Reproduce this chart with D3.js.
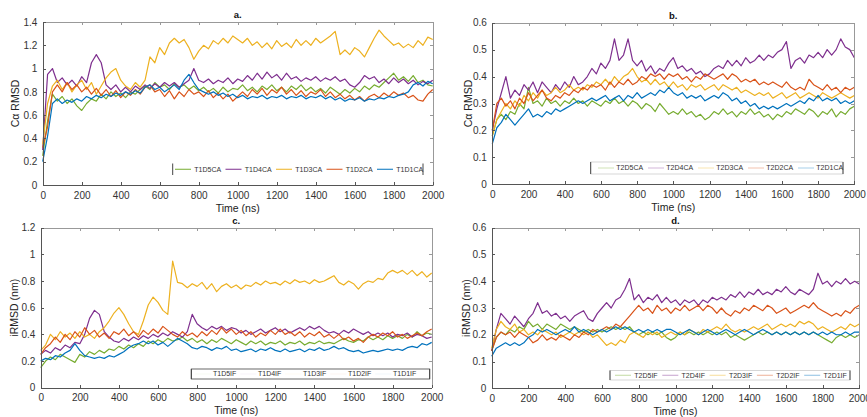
<!DOCTYPE html>
<meta charset="utf-8">
<style>
  body {
    margin: 0;
    background-color: white;
  }

  svg {
    display: block;
    font-family: "Liberation Sans", Arial, sans-serif;
  }

  .axis text {
    font-size: 10px;
    fill: #333;
  }

  .axis path,
  .axis line {
    fill: none;
    stroke: #555;
    shape-rendering: crispEdges;
  }

  .axis.far path,
  .axis.far line {
    stroke: #999;
  }

  .label {
    font-size: 10.5px;
    fill: #222;
  }

  .title {
    font-size: 9.5px;
    font-weight: bold;
    fill: #111;
  }

  .legend text {
    font-size: 7px;
    fill: #333;
  }

  .series {
    fill: none;
    stroke-width: 1.2;
    stroke-linejoin: round;
  }
</style>

<body>
  <svg id="chart" width="867" height="417"></svg>

  <script src="https://cdn.jsdelivr.net/npm/d3@7"></script>

  <script>
    var timeNs = d3.range(0, 2001, 25);
    var xTicks = [0, 200, 400, 600, 800, 1000, 1200, 1400, 1600, 1800, 2000];

    // a. T1 C-alpha RMSD
    var t1d5ca = [0.25, 0.55, 0.78, 0.72, 0.76, 0.70, 0.74, 0.68, 0.64, 0.70,
      0.74, 0.72, 0.78, 0.74, 0.80, 0.76, 0.79, 0.75, 0.80, 0.78,
      0.82, 0.85, 0.82, 0.88, 0.84, 0.86, 0.82, 0.87, 0.84, 0.86,
      0.82, 0.85, 0.81, 0.84, 0.80, 0.83, 0.79, 0.84, 0.80, 0.83,
      0.82, 0.86, 0.81, 0.84, 0.80, 0.85, 0.82, 0.86, 0.81, 0.84,
      0.80, 0.85, 0.82, 0.86, 0.81, 0.84, 0.80, 0.83, 0.79, 0.84,
      0.81, 0.78, 0.82, 0.79, 0.83, 0.80, 0.85, 0.82, 0.86, 0.84,
      0.88, 0.92, 0.96, 0.90, 0.93, 0.89, 0.94, 0.88, 0.90, 0.86, 0.85];
    var t1d4ca = [0.30, 0.95, 1.00, 0.88, 0.92, 0.86, 0.90, 0.85, 0.93, 0.88,
      1.05, 1.12, 1.05, 0.86, 0.82, 0.86, 0.80, 0.84, 0.80, 0.85,
      0.82, 0.86, 0.83, 0.87, 0.84, 0.88, 0.85, 0.88, 0.84, 0.87,
      0.90, 1.00, 0.90, 0.88, 0.91, 0.87, 0.90, 0.88, 0.92, 0.87,
      0.91, 0.89, 0.94, 0.90, 0.96, 0.91, 0.97, 0.92, 0.95, 0.90,
      0.96, 0.91, 0.93, 0.89, 0.92, 0.90, 0.93, 0.89, 0.92, 0.90,
      0.93, 0.89, 0.91, 0.86, 0.84, 0.88, 0.94, 0.91, 0.93, 0.88,
      0.91, 0.87, 0.92, 0.88, 0.91, 0.87, 0.90, 0.86, 0.89, 0.87, 0.90];
    var t1d3ca = [0.35, 0.70, 0.85, 0.90, 0.82, 0.88, 0.80, 0.86, 0.90, 0.82,
      0.88, 0.78, 0.85, 0.92, 0.97, 1.00, 0.90, 0.85, 0.82, 0.88,
      0.84, 0.90, 1.10, 1.05, 1.18, 1.12, 1.22, 1.26, 1.22, 1.25,
      1.18, 1.08, 1.15, 1.20, 1.17, 1.24, 1.21, 1.26, 1.22, 1.28,
      1.25, 1.22, 1.26, 1.20, 1.23, 1.18, 1.22, 1.17, 1.24, 1.19,
      1.22, 1.18, 1.25, 1.20, 1.24, 1.20, 1.26, 1.22, 1.25, 1.28,
      1.32, 1.12, 1.16, 1.12, 1.18, 1.15, 1.10, 1.18, 1.26, 1.33,
      1.28, 1.24, 1.20, 1.22, 1.18, 1.21, 1.18, 1.24, 1.20, 1.27, 1.25];
    var t1d2ca = [0.32, 0.50, 0.80, 0.86, 0.80, 0.88, 0.82, 0.86, 0.80, 0.84,
      0.78, 0.83, 0.77, 0.82, 0.76, 0.81, 0.75, 0.80, 0.77, 0.82,
      0.78, 0.84, 0.86, 0.80, 0.82, 0.76, 0.81, 0.74, 0.80, 0.76,
      0.82, 0.78, 0.80, 0.76, 0.81, 0.75, 0.79, 0.74, 0.78, 0.72,
      0.76, 0.80, 0.76, 0.82, 0.78, 0.83, 0.77, 0.82, 0.79, 0.84,
      0.78, 0.82, 0.77, 0.81, 0.76, 0.80, 0.78, 0.82, 0.76, 0.80,
      0.75, 0.78, 0.74, 0.77, 0.73, 0.76, 0.72, 0.76, 0.78, 0.75,
      0.79, 0.76, 0.80, 0.77, 0.79, 0.75, 0.77, 0.73, 0.72, 0.78, 0.82];
    var t1d1ca = [0.20, 0.42, 0.70, 0.74, 0.70, 0.73, 0.71, 0.74, 0.72, 0.76,
      0.74, 0.77, 0.75, 0.78, 0.76, 0.79, 0.77, 0.80, 0.78, 0.81,
      0.79, 0.84, 0.86, 0.82, 0.84, 0.80, 0.83, 0.86, 0.82, 0.90,
      0.95, 0.88, 0.82, 0.80, 0.78, 0.80, 0.77, 0.79, 0.76, 0.78,
      0.75, 0.77, 0.74, 0.76, 0.75, 0.77, 0.74, 0.76, 0.75, 0.77,
      0.74, 0.76, 0.75, 0.77, 0.74, 0.76, 0.75, 0.77, 0.74, 0.76,
      0.73, 0.75, 0.72, 0.74, 0.73, 0.75, 0.72, 0.74, 0.73, 0.75,
      0.74, 0.76, 0.75, 0.77, 0.78, 0.80, 0.86, 0.88, 0.85, 0.89, 0.87];

    // b. T2 C-alpha RMSD
    var t2d5ca = [0.18, 0.24, 0.26, 0.24, 0.27, 0.26, 0.30, 0.28, 0.36, 0.30,
      0.31, 0.29, 0.32, 0.30, 0.31, 0.29, 0.31, 0.30, 0.32, 0.30,
      0.31, 0.29, 0.31, 0.30, 0.29, 0.31, 0.30, 0.32, 0.30, 0.31,
      0.29, 0.31, 0.30, 0.28, 0.30, 0.29, 0.27, 0.30, 0.28, 0.26,
      0.27, 0.26, 0.28, 0.26, 0.27, 0.25, 0.26, 0.24, 0.25, 0.27,
      0.26, 0.28, 0.26, 0.27, 0.25, 0.27, 0.26, 0.28, 0.26, 0.27,
      0.25, 0.26, 0.24, 0.26, 0.25, 0.27, 0.26, 0.28, 0.27, 0.26,
      0.28, 0.27, 0.25, 0.27, 0.26, 0.28, 0.25, 0.27, 0.26, 0.28, 0.29];
    var t2d4ca = [0.20, 0.28, 0.34, 0.40, 0.32, 0.35, 0.33, 0.37, 0.35, 0.38,
      0.34, 0.38, 0.36, 0.34, 0.37, 0.35, 0.38, 0.36, 0.40, 0.37,
      0.38, 0.40, 0.43, 0.41, 0.45, 0.43, 0.46, 0.54, 0.46, 0.48,
      0.54, 0.46, 0.44, 0.46, 0.42, 0.44, 0.41, 0.43, 0.42, 0.45,
      0.47, 0.43, 0.44, 0.42, 0.43, 0.41, 0.42, 0.40, 0.41, 0.43,
      0.44, 0.43, 0.46, 0.44, 0.46, 0.44, 0.47, 0.45, 0.46, 0.48,
      0.46, 0.48, 0.47, 0.49, 0.50, 0.53, 0.43, 0.46, 0.47, 0.45,
      0.48, 0.47, 0.49, 0.47, 0.50, 0.48, 0.50, 0.54, 0.51, 0.50, 0.47];
    var t2d3ca = [0.18, 0.24, 0.27, 0.30, 0.28, 0.31, 0.29, 0.33, 0.31, 0.34,
      0.32, 0.35, 0.33, 0.34, 0.36, 0.34, 0.35, 0.37, 0.35, 0.36,
      0.35, 0.37, 0.36, 0.38, 0.37, 0.39, 0.37, 0.40, 0.38, 0.40,
      0.41, 0.43, 0.40, 0.38, 0.39, 0.37, 0.39, 0.37, 0.38, 0.36,
      0.38, 0.36, 0.37, 0.35, 0.37, 0.36, 0.37, 0.35, 0.36, 0.37,
      0.35, 0.37, 0.36, 0.35, 0.36, 0.34, 0.35, 0.34, 0.33, 0.34,
      0.33, 0.34, 0.32, 0.33, 0.34, 0.32, 0.33, 0.34, 0.32, 0.33,
      0.34, 0.33, 0.32, 0.34, 0.33, 0.32, 0.33, 0.34, 0.33, 0.32, 0.33];
    var t2d2ca = [0.20, 0.30, 0.32, 0.29, 0.31, 0.28, 0.32, 0.30, 0.34, 0.31,
      0.33, 0.35, 0.32, 0.31, 0.33, 0.32, 0.34, 0.33, 0.35, 0.34,
      0.36, 0.35, 0.37, 0.36, 0.37, 0.35, 0.38, 0.36, 0.38, 0.37,
      0.39, 0.37, 0.38, 0.40, 0.39, 0.41, 0.40, 0.41, 0.39, 0.41,
      0.40, 0.41, 0.39, 0.40, 0.38, 0.40, 0.39, 0.41, 0.40, 0.39,
      0.40, 0.41, 0.39, 0.41, 0.40, 0.38, 0.39, 0.38, 0.39, 0.37,
      0.38, 0.37, 0.38, 0.37, 0.36, 0.38, 0.36, 0.35, 0.36, 0.35,
      0.39, 0.37, 0.36, 0.35, 0.37, 0.35, 0.36, 0.34, 0.36, 0.35, 0.36];
    var t2d1ca = [0.15, 0.21, 0.23, 0.26, 0.24, 0.22, 0.24, 0.26, 0.28, 0.25,
      0.26, 0.25, 0.27, 0.26, 0.28, 0.27, 0.28, 0.29, 0.30, 0.31,
      0.30, 0.31, 0.32, 0.31, 0.32, 0.33, 0.31, 0.32, 0.33, 0.31,
      0.33, 0.32, 0.34, 0.32, 0.33, 0.34, 0.33, 0.35, 0.34, 0.36,
      0.34, 0.33, 0.34, 0.32, 0.33, 0.32, 0.33, 0.31, 0.32, 0.33,
      0.32, 0.34, 0.33, 0.31, 0.32, 0.30, 0.31, 0.29, 0.30, 0.28,
      0.29, 0.28, 0.29, 0.28, 0.29, 0.30, 0.29, 0.30, 0.31, 0.30,
      0.32, 0.31, 0.33, 0.31, 0.32, 0.31, 0.32, 0.30, 0.31, 0.30, 0.31];

    // c. T1 interface RMSD
    var t1d5if = [0.15, 0.20, 0.23, 0.21, 0.25, 0.23, 0.21, 0.19, 0.25, 0.23,
      0.27, 0.25, 0.28, 0.26, 0.29, 0.28, 0.31, 0.29, 0.32, 0.30,
      0.33, 0.31, 0.35, 0.33, 0.36, 0.34, 0.37, 0.35, 0.36, 0.38,
      0.35, 0.37, 0.34, 0.36, 0.33, 0.36, 0.34, 0.37, 0.35, 0.33,
      0.36, 0.34, 0.32, 0.35, 0.33, 0.35, 0.32, 0.34, 0.33, 0.35,
      0.32, 0.34, 0.33, 0.35, 0.32, 0.34, 0.33, 0.35, 0.33, 0.34,
      0.33, 0.35, 0.37, 0.35, 0.34, 0.36, 0.35, 0.38, 0.36, 0.38,
      0.36, 0.39, 0.37, 0.39, 0.37, 0.40, 0.38, 0.42, 0.39, 0.41, 0.40];
    var t1d4if = [0.25, 0.28, 0.26, 0.30, 0.28, 0.32, 0.30, 0.34, 0.33, 0.40,
      0.52, 0.58, 0.55, 0.42, 0.38, 0.35, 0.34, 0.37, 0.35, 0.38,
      0.36, 0.39, 0.37, 0.40, 0.38, 0.41, 0.39, 0.42, 0.40, 0.38,
      0.42, 0.55, 0.48, 0.45, 0.43, 0.46, 0.44, 0.46, 0.43, 0.45,
      0.44, 0.41, 0.43, 0.40, 0.42, 0.44, 0.41, 0.43, 0.45, 0.42,
      0.44, 0.41, 0.43, 0.45, 0.43, 0.46, 0.44, 0.46, 0.43, 0.41,
      0.42, 0.40, 0.43, 0.41, 0.44, 0.42, 0.40, 0.42, 0.39, 0.41,
      0.39, 0.41, 0.38, 0.40, 0.39, 0.41, 0.38, 0.40, 0.39, 0.37, 0.38];
    var t1d3if = [0.28, 0.32, 0.40, 0.36, 0.42, 0.38, 0.41, 0.37, 0.42, 0.38,
      0.40, 0.37, 0.42, 0.45, 0.50, 0.56, 0.60, 0.55, 0.48, 0.42,
      0.40, 0.50, 0.62, 0.68, 0.64, 0.58, 0.55, 0.95, 0.79, 0.78,
      0.75, 0.78, 0.76, 0.79, 0.74, 0.78, 0.72, 0.76, 0.78, 0.75,
      0.77, 0.74, 0.77, 0.76, 0.79, 0.77, 0.80, 0.78, 0.79, 0.77,
      0.80, 0.78, 0.81, 0.79, 0.80, 0.78, 0.81, 0.79, 0.80, 0.82,
      0.84, 0.79, 0.77, 0.80, 0.78, 0.74, 0.78, 0.80, 0.79, 0.82,
      0.81, 0.86, 0.88, 0.86, 0.88, 0.85, 0.88, 0.84, 0.87, 0.83, 0.86];
    var t1d2if = [0.25, 0.30, 0.33, 0.38, 0.34, 0.40, 0.36, 0.42, 0.38, 0.45,
      0.40, 0.43, 0.38, 0.41, 0.37, 0.42, 0.40, 0.44, 0.39, 0.42,
      0.38, 0.43, 0.40, 0.44, 0.41, 0.46, 0.43, 0.40, 0.38, 0.42,
      0.39, 0.41, 0.38, 0.42, 0.39, 0.43, 0.40, 0.45, 0.41, 0.44,
      0.40, 0.43, 0.39, 0.42, 0.38, 0.41, 0.39, 0.43, 0.40, 0.44,
      0.40, 0.42, 0.39, 0.42, 0.38, 0.41, 0.39, 0.42, 0.38, 0.40,
      0.37, 0.40, 0.36, 0.38, 0.35, 0.37, 0.34, 0.38, 0.40, 0.38,
      0.41, 0.39, 0.42, 0.38, 0.40, 0.37, 0.39, 0.41, 0.39, 0.42, 0.44];
    var t1d1if = [0.20, 0.22, 0.21, 0.24, 0.23, 0.26, 0.28, 0.33, 0.28, 0.24,
      0.23, 0.22, 0.23, 0.22, 0.24, 0.23, 0.25, 0.27, 0.30, 0.32,
      0.33, 0.35, 0.33, 0.35, 0.32, 0.34, 0.31, 0.34, 0.37, 0.35,
      0.33, 0.30, 0.29, 0.31, 0.30, 0.28, 0.30, 0.29, 0.31, 0.28,
      0.29, 0.27, 0.28, 0.29, 0.27, 0.29, 0.28, 0.30, 0.28, 0.27,
      0.29, 0.27, 0.28, 0.29, 0.27, 0.29, 0.28, 0.30, 0.28, 0.29,
      0.31, 0.29, 0.30, 0.28, 0.27, 0.28, 0.26, 0.27, 0.28, 0.27,
      0.28, 0.29, 0.28, 0.29, 0.28, 0.30, 0.31, 0.30, 0.33, 0.32, 0.34];

    // d. T2 interface RMSD
    var t2d5if = [0.14, 0.19, 0.21, 0.20, 0.22, 0.21, 0.23, 0.22, 0.25, 0.23,
      0.24, 0.22, 0.24, 0.23, 0.22, 0.24, 0.23, 0.22, 0.23, 0.22,
      0.21, 0.22, 0.21, 0.22, 0.21, 0.22, 0.23, 0.22, 0.23, 0.22,
      0.23, 0.21, 0.20, 0.21, 0.20, 0.21, 0.20, 0.21, 0.19, 0.18,
      0.19, 0.21, 0.20, 0.21, 0.20, 0.21, 0.20, 0.21, 0.20, 0.21,
      0.20, 0.21, 0.19, 0.20, 0.19, 0.18, 0.19, 0.20, 0.21, 0.20,
      0.21, 0.20, 0.21, 0.20, 0.21, 0.20, 0.21, 0.20, 0.21, 0.20,
      0.21, 0.20, 0.19, 0.18, 0.17, 0.19, 0.20, 0.19, 0.20, 0.19, 0.20];
    var t2d4if = [0.14, 0.22, 0.28, 0.26, 0.24, 0.27, 0.25, 0.23, 0.26, 0.28,
      0.32, 0.28, 0.29, 0.27, 0.28, 0.26, 0.27, 0.25, 0.27, 0.28,
      0.29, 0.26, 0.25, 0.28, 0.30, 0.32, 0.30, 0.33, 0.34, 0.37,
      0.41, 0.33, 0.35, 0.32, 0.34, 0.33, 0.35, 0.32, 0.34, 0.32,
      0.33, 0.31, 0.33, 0.32, 0.33, 0.31, 0.33, 0.32, 0.34, 0.33,
      0.34, 0.33, 0.35, 0.34, 0.36, 0.34, 0.36, 0.35, 0.37, 0.35,
      0.36, 0.35, 0.37, 0.36, 0.38, 0.36, 0.35, 0.37, 0.36, 0.35,
      0.37, 0.43, 0.39, 0.40, 0.38, 0.40, 0.39, 0.41, 0.39, 0.40, 0.39];
    var t2d3if = [0.15, 0.22, 0.25, 0.23, 0.22, 0.24, 0.21, 0.22, 0.20, 0.21,
      0.20, 0.22, 0.21, 0.20, 0.21, 0.19, 0.20, 0.21, 0.20, 0.21,
      0.20, 0.21, 0.19, 0.20, 0.18, 0.16, 0.17, 0.16, 0.18, 0.17,
      0.20, 0.21, 0.20, 0.19, 0.21, 0.20, 0.21, 0.19, 0.20, 0.21,
      0.20, 0.21, 0.20, 0.22, 0.21, 0.20, 0.22, 0.21, 0.22, 0.23,
      0.22, 0.24, 0.22, 0.21, 0.22, 0.21, 0.22, 0.23, 0.22, 0.23,
      0.24, 0.22, 0.23, 0.24, 0.23, 0.24, 0.23, 0.25, 0.24, 0.25,
      0.24, 0.22, 0.23, 0.22, 0.21, 0.22, 0.23, 0.22, 0.24, 0.23, 0.24];
    var t2d2if = [0.14, 0.19, 0.21, 0.20, 0.21, 0.19, 0.21, 0.20, 0.19, 0.17,
      0.18, 0.20, 0.18, 0.19, 0.18, 0.20, 0.19, 0.18, 0.20, 0.19,
      0.21, 0.20, 0.22, 0.21, 0.22, 0.23, 0.22, 0.24, 0.23, 0.25,
      0.27, 0.29, 0.31, 0.29, 0.30, 0.28, 0.31, 0.29, 0.30, 0.28,
      0.30, 0.29, 0.31, 0.29, 0.30, 0.31, 0.29, 0.31, 0.30, 0.28,
      0.30, 0.28, 0.27, 0.29, 0.28, 0.30, 0.29, 0.31, 0.30, 0.29,
      0.31, 0.30, 0.28, 0.29, 0.30, 0.28, 0.29, 0.30, 0.31, 0.30,
      0.32, 0.30, 0.29, 0.28, 0.27, 0.28, 0.27, 0.29, 0.28, 0.30, 0.31];
    var t2d1if = [0.12, 0.15, 0.16, 0.17, 0.16, 0.17, 0.16, 0.17, 0.19, 0.20,
      0.22, 0.21, 0.22, 0.21, 0.20, 0.21, 0.22, 0.21, 0.23, 0.21,
      0.22, 0.21, 0.20, 0.21, 0.22, 0.21, 0.22, 0.23, 0.22, 0.23,
      0.22, 0.21, 0.22, 0.21, 0.22, 0.21, 0.22, 0.21, 0.22, 0.22,
      0.21, 0.20, 0.21, 0.22, 0.21, 0.20, 0.21, 0.22, 0.21, 0.20,
      0.21, 0.22, 0.21, 0.20, 0.21, 0.22, 0.21, 0.20, 0.21, 0.22,
      0.21, 0.20, 0.21, 0.20, 0.21, 0.20, 0.21, 0.20, 0.21, 0.20,
      0.21, 0.20, 0.21, 0.20, 0.21, 0.20, 0.20, 0.21, 0.20, 0.21, 0.21];

    // matlab default colours, legend order D5, D4, D3, D2, D1
    var seriesColors = ["#77AC30", "#7E2F8E", "#EDB120", "#D95319", "#0072BD"];

    var panels = [
      {
        title: "a.", ylabel: "C\u03b1 RMSD", ymax: 1.4, ystep: 0.2, ylabelX: 15,
        names: ["T1D5CA", "T1D4CA", "T1D3CA", "T1D2CA", "T1D1CA"],
        values: [t1d5ca, t1d4ca, t1d3ca, t1d2ca, t1d1ca],
        left: 42.7, right: 432.7, top: 22, bottom: 185,
        legend: { x: 172.7, y: 163.5, w: 250.3, h: 11.5, gap: 50.5, line0: 2.3, text0: 21.6, lineOpacity: 1, edge: "none" }
      },
      {
        title: "b.", ylabel: "C\u03b1 RMSD", ymax: 0.6, ystep: 0.1, ylabelX: 468.3,
        names: ["T2D5CA", "T2D4CA", "T2D3CA", "T2D2CA", "T2D1CA"],
        values: [t2d5ca, t2d4ca, t2d3ca, t2d2ca, t2d1ca],
        left: 492.3, right: 854.3, top: 22.7, bottom: 184.3,
        legend: { x: 590.7, y: 162, w: 252.3, h: 12, gap: 50, line0: 7.3, text0: 25.6, lineOpacity: 0.35, edge: "#ccc" }
      },
      {
        title: "c.", ylabel: "iRMSD (nm)", ymax: 1.2, ystep: 0.2, ylabelX: 14,
        names: ["T1D5IF", "T1D4IF", "T1D3IF", "T1D2IF", "T1D1IF"],
        values: [t1d5if, t1d4if, t1d3if, t1d2if, t1d1if],
        left: 40.7, right: 431.7, top: 227.7, bottom: 387.7,
        legend: { x: 191.3, y: 369, w: 238.4, h: 10, gap: 45, line0: 4, text0: 21.7, lineOpacity: 0.06, edge: "#444" }
      },
      {
        title: "d.", ylabel: "iRMSD (nm)", ymax: 0.6, ystep: 0.1, ylabelX: 466.7,
        names: ["T2D5IF", "T2D4IF", "T2D3IF", "T2D2IF", "T2D1IF"],
        values: [t2d5if, t2d4if, t2d3if, t2d2if, t2d1if],
        left: 491.7, right: 859.3, top: 227.7, bottom: 388.3,
        legend: { x: 610, y: 370.5, w: 240, h: 9.5, gap: 47.3, line0: 5, text0: 24.3, lineOpacity: 0.45, edge: "#ccc" }
      }
    ];

    var svg = d3.select("#chart");

    panels.forEach(function (p) {
      var x = d3.scaleLinear().domain([0, 2000]).range([p.left, p.right]);
      var y = d3.scaleLinear().domain([0, p.ymax]).range([p.bottom, p.top]);
      var yTicks = d3.range(0, p.ymax + 1e-9, p.ystep).map(v => +v.toFixed(1));

      var g = svg.append("g");

      // series, D5 first so D1 ends up on top
      var line = d3.line()
        .x((d, i) => x(timeNs[i]))
        .y(d => y(d));

      p.values.forEach(function (vals, k) {
        g.append("path")
          .attr("class", "series")
          .attr("stroke", seriesColors[k])
          .attr("d", line(vals));
      });

      // box: far sides first, lighter
      g.append("g")
        .attr("class", "axis far")
        .attr("transform", `translate(0,${p.top})`)
        .call(d3.axisTop(x).tickValues(xTicks).tickSize(-3).tickSizeOuter(0).tickFormat(""));
      g.append("g")
        .attr("class", "axis far")
        .attr("transform", `translate(${p.right},0)`)
        .call(d3.axisRight(y).tickValues(yTicks).tickSize(-3).tickSizeOuter(0).tickFormat(""));

      g.append("g")
        .attr("class", "axis")
        .attr("transform", `translate(0,${p.bottom})`)
        .call(d3.axisBottom(x).tickValues(xTicks).tickSize(-3).tickSizeOuter(0).tickPadding(6.5)
          .tickFormat(d3.format("d")));
      g.append("g")
        .attr("class", "axis")
        .attr("transform", `translate(${p.left},0)`)
        .call(d3.axisLeft(y).tickValues(yTicks).tickSize(-3).tickSizeOuter(0).tickPadding(5.4)
          .tickFormat(d3.format("~g")));

      // labels
      g.append("text")
        .attr("class", "title")
        .attr("x", (p.left + p.right) / 2)
        .attr("y", p.top - 4)
        .attr("text-anchor", "middle")
        .text(p.title);

      g.append("text")
        .attr("class", "label")
        .attr("x", (p.left + p.right) / 2)
        .attr("y", p.bottom + 26.5)
        .attr("text-anchor", "middle")
        .text("Time (ns)");

      g.append("text")
        .attr("class", "label")
        .attr("transform", `translate(${p.ylabelX},${(p.top + p.bottom) / 2}) rotate(-90)`)
        .attr("text-anchor", "middle")
        .attr("dy", "0.35em")
        .text(p.ylabel);

      // legend
      var L = p.legend;
      var lg = g.append("g").attr("class", "legend");
      lg.append("rect")
        .attr("x", L.x).attr("y", L.y)
        .attr("width", L.w).attr("height", L.h)
        .attr("fill", "white")
        .attr("stroke", L.edge)
        .attr("stroke-width", 0.8);
      [L.x, L.x + L.w].forEach(function (ex) {
        lg.append("line")
          .attr("x1", ex).attr("x2", ex)
          .attr("y1", L.y).attr("y2", L.y + L.h)
          .attr("stroke", "#444");
      });
      p.names.forEach(function (name, k) {
        var sx = L.x + L.line0 + k * L.gap;
        lg.append("line")
          .attr("x1", sx).attr("x2", sx + 16)
          .attr("y1", L.y + L.h / 2).attr("y2", L.y + L.h / 2)
          .attr("stroke", seriesColors[k])
          .attr("stroke-opacity", L.lineOpacity);
        lg.append("text")
          .attr("x", L.x + L.text0 + k * L.gap)
          .attr("y", L.y + L.h / 2)
          .attr("dy", "0.35em")
          .text(name);
      });
    });
  </script>
</body>

</html>
